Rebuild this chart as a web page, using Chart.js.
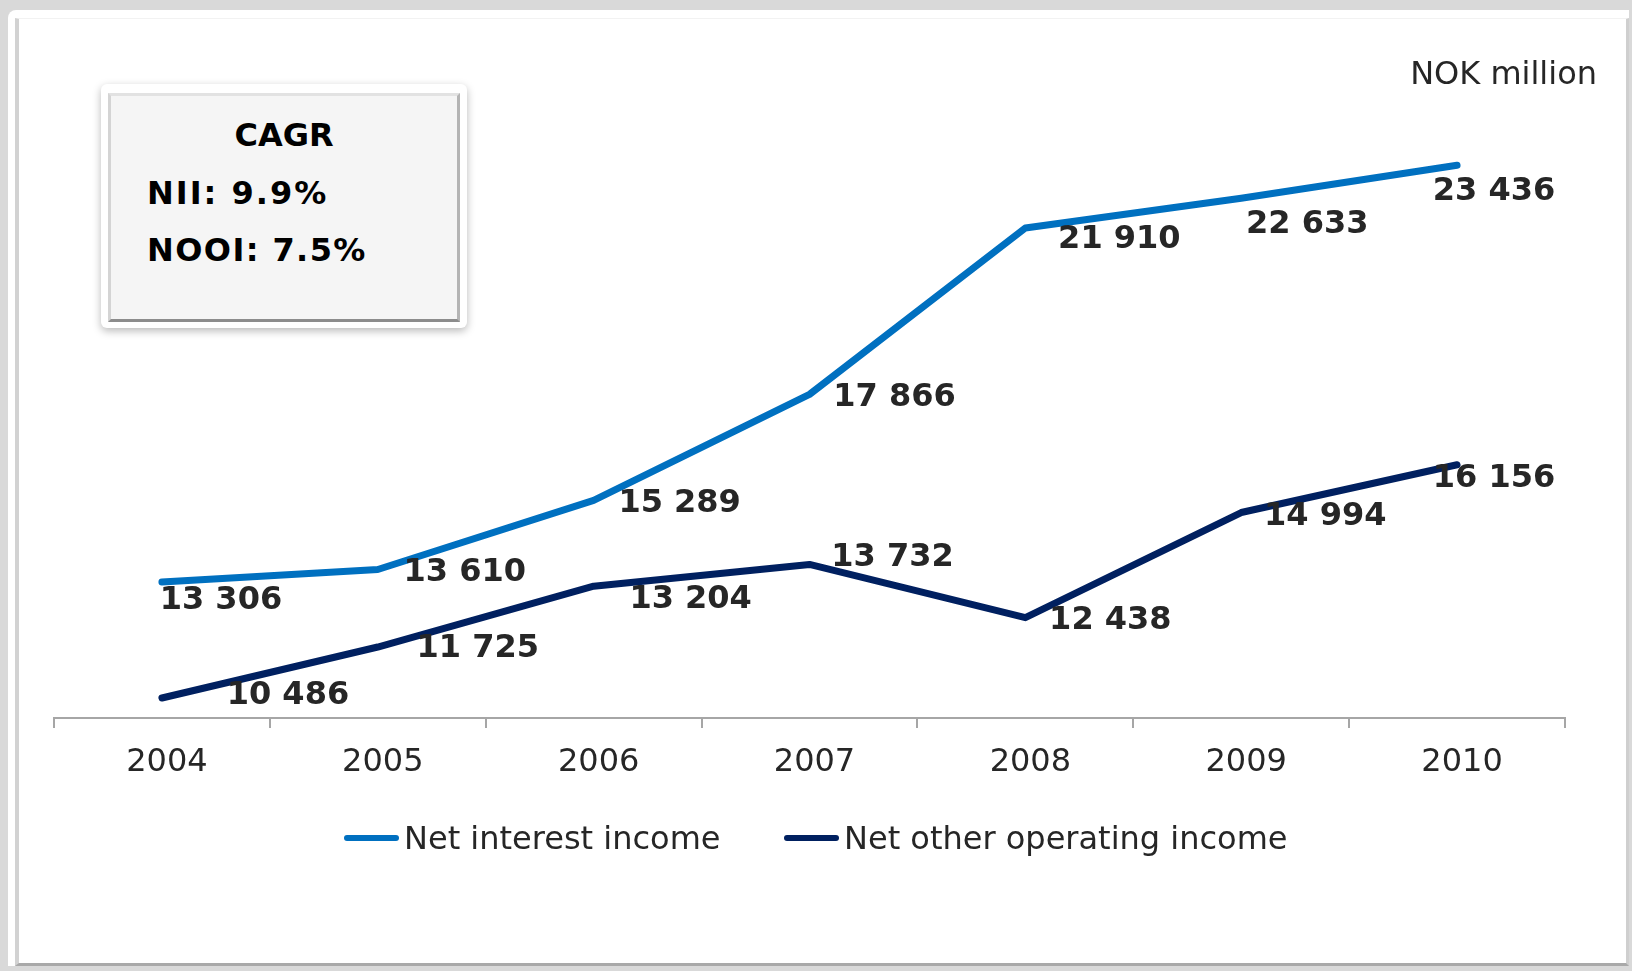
<!DOCTYPE html>
<html>
<head>
<meta charset="utf-8">
<title>Net interest income and net other operating income</title>
<script src="https://cdn.jsdelivr.net/npm/chart.js@4/dist/chart.umd.min.js"></script>
<style>
  html, body { margin: 0; padding: 0; }
  body {
    width: 1632px; height: 971px; position: relative; overflow: hidden;
    background: #d9d9d9;
    font-family: "DejaVu Sans", Verdana, sans-serif; color: #262626;
  }
  .panel {
    position: absolute; left: 8px; top: 10px; width: 1621px; height: 956px;
    background: #fff; border-radius: 8px 0 0 0;
  }
  .frame {
    position: absolute; left: 15px; top: 18px; width: 1614px; height: 948px;
    box-sizing: border-box;
    border-left: 4px solid #d2d2d2; border-top: 1px solid #f2f2f2;
    border-bottom: 3px solid #a9a9a9; border-right: 3px solid #cfcfcf;
  }
  #chartBox { position: absolute; left: 0; top: 0; width: 1632px; height: 971px; }
  .unit {
    position: absolute; right: 35px; top: 54px;
    font-size: 32px; line-height: 38px; white-space: nowrap;
  }
  .cagr {
    position: absolute; left: 101px; top: 84px; width: 366px; height: 244px;
    background: #fff; border-radius: 6px;
    box-shadow: 0 3px 9px rgba(0,0,0,0.28);
  }
  .cagr .inner {
    position: absolute; left: 7px; top: 9px; width: 352px; height: 229px;
    box-sizing: border-box; background: #f5f5f5;
    border: 3px solid; border-color: #e2e2e2 #b4b4b4 #8c8c8c #d4d4d4;
    color: #000; font-weight: bold; font-size: 32px; line-height: 38px;
  }
  .cagr .line { position: absolute; white-space: nowrap; }
  .legend { position: absolute; left: 0; top: 819px; height: 38px; }
  .legend .item {
    position: absolute; top: 0; display: flex; align-items: center;
    font-size: 32px; line-height: 38px; white-space: nowrap; color: #262626;
  }
  .legend .swatch {
    display: inline-block; width: 55px; height: 6px; border-radius: 3px; margin-right: 5px;
  }
</style>
</head>
<body>
<div class="panel"></div>
<div class="frame"></div>
<div id="chartBox"><canvas id="chart" width="1632" height="971"></canvas></div>
<div class="unit">NOK million</div>
<div class="cagr">
  <div class="inner">
    <div class="line" style="left:0;width:346px;text-align:center;top:20px;">CAGR</div>
    <div class="line" style="left:36px;top:78px;letter-spacing:2px;">NII: 9.9%</div>
    <div class="line" style="left:36px;top:135px;letter-spacing:1.4px;">NOOI: 7.5%</div>
  </div>
</div>
<div class="legend" id="legend"></div>

<script>
// Years on the category axis
const years = ['2004', '2005', '2006', '2007', '2008', '2009', '2010'];

// NOK million
const netInterestIncome = [13306, 13610, 15289, 17866, 21910, 22633, 23436];
const netOtherOperatingIncome = [10486, 11725, 13204, 13732, 12438, 14994, 16156];

// Value axis range
const valueMin = 10000;
const valueMax = 24000;

// Where each value label sits relative to its point (centre offset, px)
const niiLabelOffsets = [[59, 19], [87, 3], [86, 3], [85, 3], [94, 12], [66, 26], [37, 26]];
const nooiLabelOffsets = [[126, -2], [100, 2], [97, 14], [83, -7], [85, 3], [84, 4], [37, 14]];

// Legend item left edges
const legendLefts = [344, 784];

const FONT = '"DejaVu Sans", Verdana, sans-serif';

function formatNok(v) {
  return String(v).replace(/\B(?=(\d{3})+(?!\d))/g, ' ');
}

// Draws the bold value next to every point of every line
const valueLabels = {
  id: 'valueLabels',
  afterDatasetsDraw(chart) {
    const ctx = chart.ctx;
    ctx.save();
    ctx.font = 'bold 32px ' + FONT;
    ctx.fillStyle = '#262626';
    ctx.textAlign = 'center';
    ctx.textBaseline = 'middle';
    chart.data.datasets.forEach((ds, di) => {
      const meta = chart.getDatasetMeta(di);
      meta.data.forEach((pt, i) => {
        const off = ds.labelOffsets[i];
        ctx.fillText(formatNok(ds.data[i]), pt.x + off[0], pt.y + off[1]);
      });
    });
    ctx.restore();
  }
};

const chart = new Chart(document.getElementById('chart'), {
  type: 'line',
  data: {
    labels: years,
    datasets: [
      {
        label: 'Net interest income',
        data: netInterestIncome,
        borderColor: '#0070c0',
        backgroundColor: '#0070c0',
        labelOffsets: niiLabelOffsets
      },
      {
        label: 'Net other operating income',
        data: netOtherOperatingIncome,
        borderColor: '#002060',
        backgroundColor: '#002060',
        labelOffsets: nooiLabelOffsets
      }
    ]
  },
  options: {
    responsive: false,
    animation: false,
    events: [],
    layout: { padding: { left: 54, right: 67, top: 142, bottom: 0 } },
    elements: {
      line: { borderWidth: 7, tension: 0, borderCapStyle: 'round', borderJoinStyle: 'round' },
      point: { radius: 0, hoverRadius: 0 }
    },
    plugins: {
      legend: { display: false },
      tooltip: { enabled: false }
    },
    scales: {
      x: {
        type: 'category',
        offset: true,
        grid: {
          offset: true,
          drawOnChartArea: false,
          drawTicks: true,
          tickLength: 10,
          color: '#a6a6a6',
          lineWidth: 2
        },
        border: { display: true, color: '#a6a6a6', width: 2 },
        ticks: {
          color: '#262626',
          font: { family: FONT, size: 32 },
          padding: 15,
          labelOffset: 5,
          maxRotation: 0,
          autoSkip: false
        },
        afterFit(scale) { scale.height = 971 - 718; }
      },
      y: {
        display: false,
        min: valueMin,
        max: valueMax
      }
    }
  },
  plugins: [valueLabels]
});

// Legend built from the chart's datasets
const legendEl = document.getElementById('legend');
chart.data.datasets.forEach((ds, i) => {
  const item = document.createElement('div');
  item.className = 'item';
  item.style.left = legendLefts[i] + 'px';
  const sw = document.createElement('span');
  sw.className = 'swatch';
  sw.style.background = ds.borderColor;
  const txt = document.createElement('span');
  txt.textContent = ds.label;
  item.appendChild(sw);
  item.appendChild(txt);
  legendEl.appendChild(item);
});
</script>
</body>
</html>
